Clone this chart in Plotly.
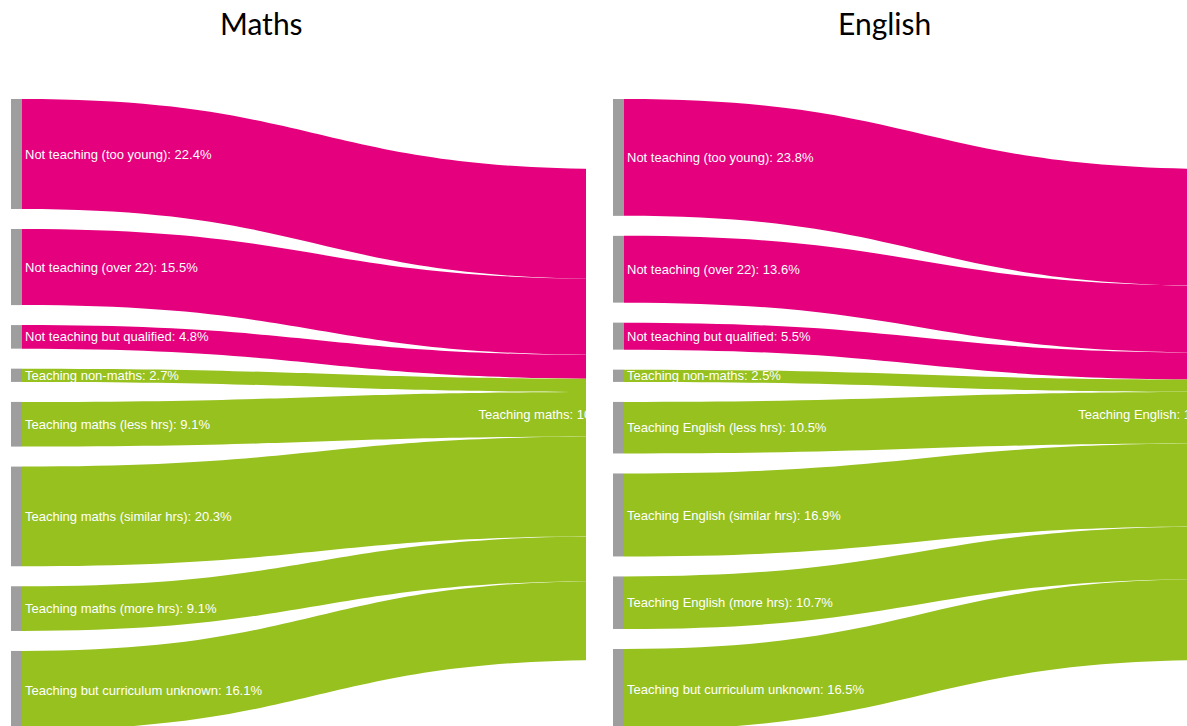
import plotly.graph_objects as go

# source groups (left column), one set per subject
maths_labels = [
    "Not teaching (too young)",
    "Not teaching (over 22)",
    "Not teaching but qualified",
    "Teaching non-maths",
    "Teaching maths (less hrs)",
    "Teaching maths (similar hrs)",
    "Teaching maths (more hrs)",
    "Teaching but curriculum unknown",
]
maths_values = [22.4, 15.5, 4.8, 2.7, 9.1, 20.3, 9.1, 16.1]
maths_target = "Teaching maths"

english_labels = [
    "Not teaching (too young)",
    "Not teaching (over 22)",
    "Not teaching but qualified",
    "Teaching non-maths",
    "Teaching English (less hrs)",
    "Teaching English (similar hrs)",
    "Teaching English (more hrs)",
    "Teaching but curriculum unknown",
]
english_values = [23.8, 13.6, 5.5, 2.5, 10.5, 16.9, 10.7, 16.5]
english_target = "Teaching English"

titles = ["Maths", "English"]

W, H = 1187, 726
DOM_TOP = 99       # space above the diagrams for the titles
STACK = 631        # height of the source column (runs a little past the bottom, cropped)
THICK = 11
PAD = 20
PINK = "#E5007D"
GREEN = "#97C11F"
GREY = "#9E9E9E"
LABEL_FONT = dict(family="Liberation Sans, Arial, sans-serif", size=13, color="white", shadow="none")


def make_sankey(labels, values, target, left_px, right_px, target_x0):
    n = len(labels)
    total = round(sum(values), 1)
    node_labels = [f"{lab}: {v}%" for lab, v in zip(labels, values)] + [f"{target}: {total:g}%"]
    width = right_px - left_px
    height = H - DOM_TOP
    # node scale as if the column were STACK px tall; plotly gets a pad that gives the same scale
    ky = (STACK - (n - 1) * PAD) / sum(values)
    layout_pad = (height - ky * sum(values)) / (n - 1)
    # keep the original top-to-bottom order: stack the sources ourselves
    ys, acc = [], 0.0
    for v in values:
        ys.append((acc + v * ky / 2) / height)
        acc += v * ky + PAD
    ys.append(STACK / 2 / height)
    # target node sits past the panel edge, cropped like the original
    xs = [THICK / 2 / width] * n + [(target_x0 + THICK / 2 - left_px) / width]
    link_colors = [PINK if lab.startswith("Not teaching") else GREEN for lab in labels]
    return go.Sankey(
        domain=dict(x=[left_px / W, right_px / W], y=[0, 1 - DOM_TOP / H]),
        arrangement="fixed",
        node=dict(
            label=node_labels,
            x=xs,
            y=ys,
            thickness=THICK,
            pad=layout_pad,
            color=[GREY] * n + ["rgba(0,0,0,0)"],
            line=dict(width=0),
        ),
        link=dict(source=list(range(n)), target=[n] * n, value=values, color=link_colors),
        textfont=LABEL_FONT,
        hoverinfo="none",
    )


fig = go.Figure()
fig.add_trace(make_sankey(maths_labels, maths_values, maths_target, 11, 593, 613))
fig.add_trace(make_sankey(english_labels, english_values, english_target, 613, W, 1220))

# titles
for t, cx in zip(titles, [261.5, 884]):
    fig.add_annotation(
        text=t, x=cx / W, y=1 - 23 / H, xref="paper", yref="paper",
        xanchor="center", yanchor="middle", showarrow=False,
        font=dict(family="Lato, Calibri, sans-serif", size=30, color="black"),
    )

# white strip: the maths diagram is cropped before the english one starts
fig.add_annotation(
    text=" ", x=586 / W, y=0.5, xref="paper", yref="paper",
    xanchor="left", yanchor="middle", showarrow=False,
    width=27, height=H, borderpad=0, borderwidth=0, bgcolor="white",
)

fig.update_layout(
    width=W, height=H,
    margin=dict(l=0, r=0, t=0, b=0),
    paper_bgcolor="white",
)
# figure fills the window exactly (no default body margin)
fig.write_html("out.html", config={"displayModeBar": False},
               post_script="document.body.style.margin = '0';")
